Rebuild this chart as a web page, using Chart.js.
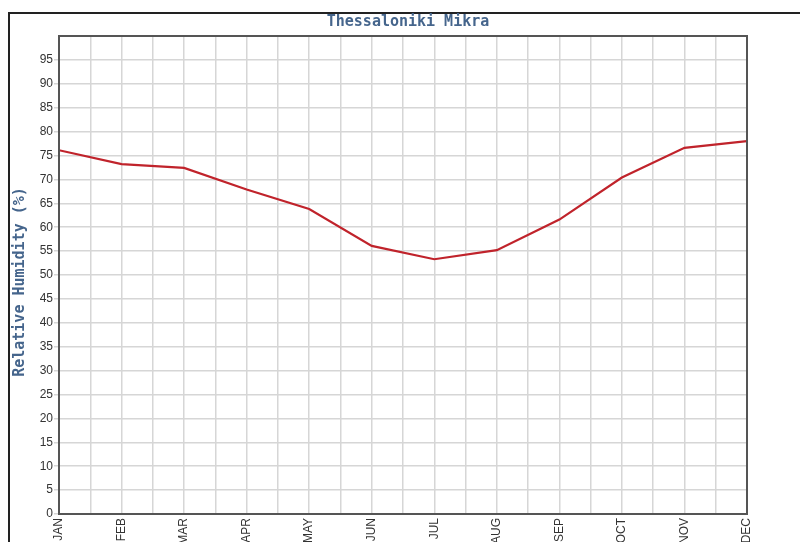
<!DOCTYPE html>
<html>
<head>
<meta charset="utf-8">
<script src="https://cdn.jsdelivr.net/npm/chart.js@4/dist/chart.umd.min.js"></script>
<style>
  html, body { margin: 0; padding: 0; background: #fff; }
  #wrap { position: relative; width: 800px; height: 542px; overflow: hidden; }
  #frame { position: absolute; left: 8px; top: 12px; width: 900px; height: 700px; border: 2px solid #222; box-sizing: border-box; }
  canvas { position: absolute; left: 0; top: 0; }
</style>
</head>
<body>
<div id="wrap">
  <div id="frame"></div>
  <canvas id="c" width="800" height="542"></canvas>
</div>
<script>
const months = ["JAN","FEB","MAR","APR","MAY","JUN","JUL","AUG","SEP","OCT","NOV","DEC"];
const humidity = [76.1, 73.2, 72.4, 67.9, 63.8, 56.1, 53.3, 55.2, 61.6, 70.4, 76.6, 78.0];
const yTicks = [0,5,10,15,20,25,30,35,40,45,50,55,60,65,70,75,80,85,90,95];
const chartTitle = 'Thessaloniki Mikra';
const yTitle = 'Relative Humidity (%)';

const frameColor = '#555';
const borderPlugin = {
  id: 'plotBorder',
  afterDraw(chart) {
    const {ctx, chartArea: a} = chart;
    ctx.save();
    ctx.strokeStyle = frameColor;
    ctx.lineWidth = 2;
    ctx.strokeRect(a.left, a.top, a.right - a.left, a.bottom - a.top);
    ctx.fillStyle = '#45658c';
    ctx.font = 'bold 15px "DejaVu Sans Mono"';
    ctx.textAlign = 'center';
    ctx.textBaseline = 'middle';
    ctx.fillText(chartTitle, 408, 22);
    ctx.translate(20, 282);
    ctx.rotate(-Math.PI / 2);
    ctx.fillText(yTitle, 0, 0);
    ctx.restore();
  }
};

new Chart(document.getElementById('c'), {
  type: 'line',
  data: {
    datasets: [{
      data: humidity.map((v, i) => ({x: i, y: v})),
      borderColor: '#c0232b',
      borderWidth: 2.2,
      pointRadius: 0,
      tension: 0,
      fill: false
    }]
  },
  options: {
    responsive: false,
    animation: false,
    devicePixelRatio: 1,
    layout: { padding: { left: 0, right: 53, top: 36, bottom: 0 } },
    plugins: {
      legend: { display: false },
      tooltip: { enabled: false },
      title: { display: false }
    },
    scales: {
      x: {
        type: 'linear',
        min: 0, max: 11,
        afterBuildTicks(axis) {
          const t = [];
          for (let i = 0; i <= 22; i++) t.push({ value: i / 2 });
          axis.ticks = t;
        },
        afterFit(axis) { axis.height = 28; },
        ticks: {
          autoSkip: false,
          minRotation: 90, maxRotation: 90,
          padding: 4,
          color: '#333',
          font: { family: 'Liberation Sans', size: 12 },
          callback: (v) => Number.isInteger(v) ? months[v] : ''
        },
        grid: { color: '#d6d6d6', lineWidth: 1.5, drawTicks: false },
        border: { display: false }
      },
      y: {
        min: 0, max: 100,
        afterBuildTicks(axis) { axis.ticks = yTicks.map(v => ({ value: v })); },
        afterFit(axis) { axis.width = 59; },
        ticks: {
          color: '#333',
          padding: 1,
          font: { family: 'Liberation Sans', size: 12 }
        },
        grid: { color: '#d6d6d6', lineWidth: 1.5, tickLength: 5 },
        border: { display: false }
      }
    }
  },
  plugins: [borderPlugin]
});
</script>
</body>
</html>
